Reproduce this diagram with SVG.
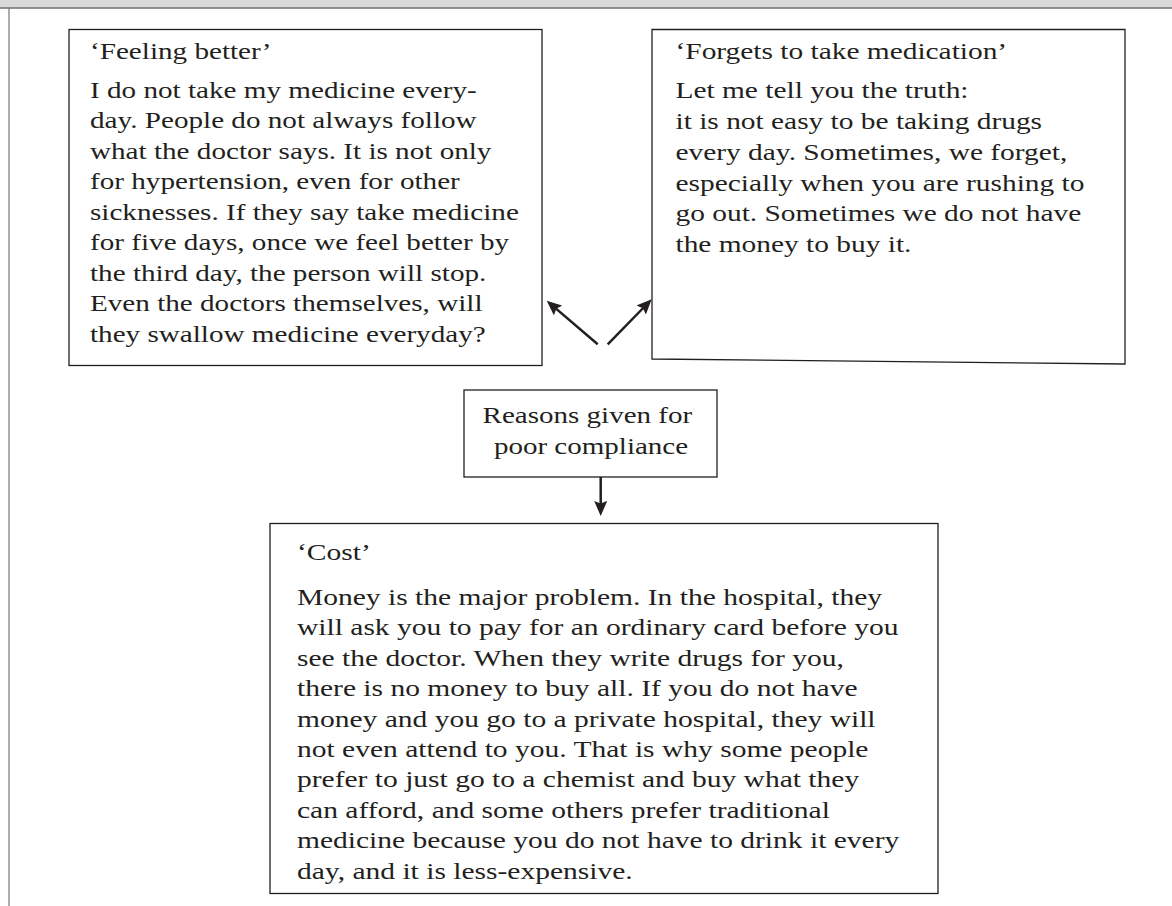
<svg xmlns="http://www.w3.org/2000/svg" width="1172" height="906" viewBox="0 0 1172 906">
<style>
.box{fill:#fff;stroke:#231f20;stroke-width:1.3}
.t{font-family:"Liberation Serif","Times New Roman",serif;font-size:24px;fill:#231f20}
.c{text-anchor:middle}
.arr{stroke:#231f20;stroke-width:2.5;fill:none;marker-end:url(#ah)}
</style>
<defs>
<marker id="ah" markerUnits="userSpaceOnUse" markerWidth="15" markerHeight="13" viewBox="0 0 15 13" refX="7" refY="6.5" orient="auto">
<path d="M0,0 L15,6.5 L0,13 L2.5,6.5 z" fill="#231f20"/>
</marker>
</defs>
<rect width="1172" height="906" fill="#fff"/>
<g id="frame">
<rect x="0" y="0" width="1172" height="7.5" fill="#d9d9d9"/>
<line x1="0" y1="8" x2="1172" y2="8" stroke="#6d6d6d" stroke-width="1.5"/>
<line x1="9" y1="8" x2="9" y2="906" stroke="#777" stroke-width="1.2"/>
</g>
<g id="feeling-better">
<rect class="box" x="69" y="29.5" width="473" height="336"/>
<text class="t" transform="translate(90 0) scale(1.215 1)">
<tspan x="0" y="59">‘Feeling better’</tspan>
<tspan x="0" y="98">I do not take my medicine every-</tspan>
<tspan x="0" y="128.5">day. People do not always follow</tspan>
<tspan x="0" y="159">what the doctor says. It is not only</tspan>
<tspan x="0" y="189.5">for hypertension, even for other</tspan>
<tspan x="0" y="220">sicknesses. If they say take medicine</tspan>
<tspan x="0" y="250.5">for five days, once we feel better by</tspan>
<tspan x="0" y="281">the third day, the person will stop.</tspan>
<tspan x="0" y="311.5">Even the doctors themselves, will</tspan>
<tspan x="0" y="342">they swallow medicine everyday?</tspan>
</text>
</g>
<g id="forgets">
<polygon class="box" points="652,29.5 1125,29.5 1125,364 652,359"/>
<text class="t" transform="translate(675.5 0) scale(1.225 1)">
<tspan x="0" y="59.5">‘Forgets to take medication’</tspan>
<tspan x="0" y="98.5">Let me tell you the truth:</tspan>
<tspan x="0" y="129.2">it is not easy to be taking drugs</tspan>
<tspan x="0" y="159.9">every day. Sometimes, we forget,</tspan>
<tspan x="0" y="190.6">especially when you are rushing to</tspan>
<tspan x="0" y="221.3">go out. Sometimes we do not have</tspan>
<tspan x="0" y="252">the money to buy it.</tspan>
</text>
</g>
<g id="reasons">
<rect class="box" x="464" y="390" width="253" height="87"/>
<text class="t c" transform="translate(591 0) scale(1.21 1)">
<tspan x="0" y="423.5">Reasons given for</tspan>
<tspan x="0" y="454">poor compliance</tspan>
</text>
</g>
<g id="cost">
<rect class="box" x="270" y="523.5" width="668" height="370"/>
<text class="t" transform="translate(297 0) scale(1.23 1)">
<tspan x="0" y="560">‘Cost’</tspan>
<tspan x="0" y="605">Money is the major problem. In the hospital, they</tspan>
<tspan x="0" y="635.4">will ask you to pay for an ordinary card before you</tspan>
<tspan x="0" y="665.8">see the doctor. When they write drugs for you,</tspan>
<tspan x="0" y="696.2">there is no money to buy all. If you do not have</tspan>
<tspan x="0" y="726.6">money and you go to a private hospital, they will</tspan>
<tspan x="0" y="757">not even attend to you. That is why some people</tspan>
<tspan x="0" y="787.4">prefer to just go to a chemist and buy what they</tspan>
<tspan x="0" y="817.8">can afford, and some others prefer traditional</tspan>
<tspan x="0" y="848.2">medicine because you do not have to drink it every</tspan>
<tspan x="0" y="878.6">day, and it is less-expensive.</tspan>
</text>
</g>
<g id="connectors">
<line class="arr" x1="597.7" y1="344.3" x2="552.8" y2="305.9"/>
<line class="arr" x1="607.7" y1="344.3" x2="646.1" y2="305"/>
<line class="arr" x1="600.7" y1="477" x2="600.7" y2="508"/>
</g>
</svg>
